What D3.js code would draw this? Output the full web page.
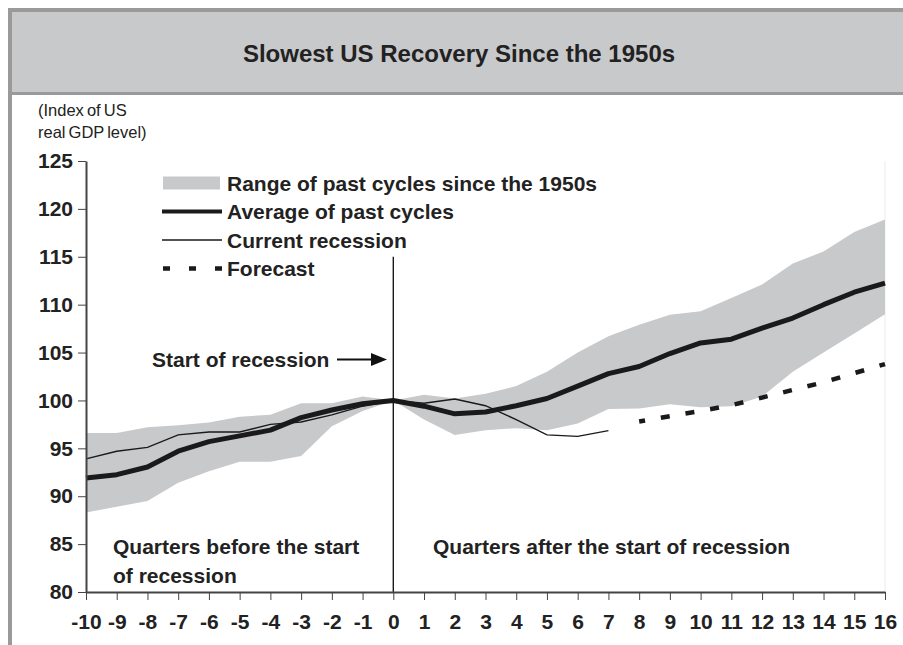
<!DOCTYPE html>
<html>
    <head>
        <meta charset="utf-8">
        <title>Slowest US Recovery</title>
        <script src="https://d3js.org/d3.v7.min.js"></script>
        <style>
            html, body {
                margin: 0;
                padding: 0;
                background: white;
            }
            svg {
                display: block;
                font-family: Arial, "Liberation Sans", sans-serif;
            }
            .axis path, .axis line {
                stroke: #444;
            }
            .axis path {
                stroke-width: 2px;
            }
            .axis text {
                font-size: 21px;
                font-weight: bold;
                fill: #222;
            }
            .bold-label {
                font-size: 21px;
                font-weight: bold;
                fill: #222;
            }
        </style>
    </head>
    <body>
        <svg width="903" height="645"></svg>
    </body>
    <script>
        // quarters relative to the start of recession
        let quarters = [-10, -9, -8, -7, -6, -5, -4, -3, -2, -1, 0, 1, 2, 3, 4, 5, 6, 7, 8, 9, 10, 11, 12, 13, 14, 15, 16];
        let rangeLow = [88.3, 88.9, 89.5, 91.4, 92.6, 93.6, 93.6, 94.2, 97.3, 98.9, 100, 98.0, 96.4, 96.9, 97.1, 96.9, 97.6, 99.1, 99.15, 99.6, 99.3, 99.4, 100.4, 103.0, 105.0, 107.0, 109.0];
        let rangeHigh = [96.6, 96.6, 97.2, 97.4, 97.7, 98.3, 98.5, 99.7, 99.7, 100.4, 100, 100.6, 100.2, 100.7, 101.5, 103.0, 105.0, 106.7, 107.9, 108.95, 109.3, 110.7, 112.1, 114.3, 115.55, 117.6, 118.9];
        let average = [91.9, 92.25, 93.05, 94.7, 95.7, 96.3, 96.9, 98.2, 99.0, 99.65, 100, 99.4, 98.6, 98.8, 99.45, 100.2, 101.5, 102.8, 103.55, 104.9, 106.0, 106.4, 107.55, 108.6, 110.0, 111.3, 112.25];
        let currentQuarters = [-10, -9, -8, -7, -6, -5, -4, -3, -2, -1, 0, 1, 2, 3, 4, 5, 6, 7];
        let current = [93.9, 94.7, 95.1, 96.4, 96.7, 96.7, 97.5, 97.75, 98.5, 99.4, 100, 99.7, 100.15, 99.45, 98.0, 96.4, 96.25, 96.85];
        let forecastQuarters = [8, 9, 10, 11, 12, 13, 14, 15, 16];
        let forecast = [97.8, 98.35, 98.9, 99.5, 100.3, 101.1, 101.9, 102.85, 103.8];
        let yTicks = [80, 85, 90, 95, 100, 105, 110, 115, 120, 125];
        let legendLabels = ['Range of past cycles since the 1950s', 'Average of past cycles', 'Current recession', 'Forecast'];
        let markerTop = 115;

        let svg = d3.select('svg');

        // frame and header
        svg.append('rect').attr('x', 8).attr('y', 8).attr('width', 895).attr('height', 637).attr('fill', '#9a9a9a');
        svg.append('rect').attr('x', 12).attr('y', 12).attr('width', 891).attr('height', 633).attr('fill', 'white');
        svg.append('rect').attr('x', 12).attr('y', 12).attr('width', 891).attr('height', 80).attr('fill', '#c8c9cb');
        svg.append('rect').attr('x', 12).attr('y', 92).attr('width', 891).attr('height', 3).attr('fill', '#9a9a9a');

        svg.append('text')
            .attr('x', 459).attr('y', 62)
            .attr('text-anchor', 'middle')
            .style('font-size', '24px').style('font-weight', 'bold').style('fill', '#222')
            .text('Slowest US Recovery Since the 1950s');

        svg.append('text')
            .attr('x', 38).attr('y', 116)
            .style('font-size', '16.5px').style('fill', '#222').style('word-spacing', '-1.5px')
            .text('(Index of US');
        svg.append('text')
            .attr('x', 38).attr('y', 138)
            .style('font-size', '16.5px').style('fill', '#222').style('word-spacing', '-1.5px')
            .text('real GDP level)');

        let x = d3.scaleLinear().domain([-10, 16]).range([86, 885]);
        let y = d3.scaleLinear().domain([80, 125]).range([592, 161]);

        // faint right edge of plot area
        svg.append('line')
            .attr('x1', x(16)).attr('x2', x(16))
            .attr('y1', y(125)).attr('y2', y(80))
            .attr('stroke', '#ececec').attr('stroke-width', 1);

        let bandData = quarters.map((q, i) => ({q: q, lo: rangeLow[i], hi: rangeHigh[i]}));
        let area = d3.area()
            .x(d => x(d.q))
            .y0(d => y(d.lo))
            .y1(d => y(d.hi));
        svg.append('path')
            .datum(bandData)
            .attr('d', area)
            .attr('fill', '#c8c9cb');

        let line = d3.line()
            .x(d => x(d[0]))
            .y(d => y(d[1]));

        svg.append('path')
            .datum(quarters.map((q, i) => [q, average[i]]))
            .attr('d', line)
            .attr('fill', 'none')
            .attr('stroke', '#1a1a1a')
            .attr('stroke-width', 5)
            .attr('stroke-linejoin', 'round');

        svg.append('path')
            .datum(currentQuarters.map((q, i) => [q, current[i]]))
            .attr('d', line)
            .attr('fill', 'none')
            .attr('stroke', '#1a1a1a')
            .attr('stroke-width', 1.4);

        svg.append('path')
            .datum(forecastQuarters.map((q, i) => [q, forecast[i]]))
            .attr('d', line)
            .attr('fill', 'none')
            .attr('stroke', '#1a1a1a')
            .attr('stroke-width', 4.5)
            .attr('stroke-dasharray', '9,16')
            .attr('stroke-dashoffset', 3);

        // start of recession marker
        svg.append('line')
            .attr('x1', x(0)).attr('x2', x(0))
            .attr('y1', y(80)).attr('y2', y(markerTop))
            .attr('stroke', '#1a1a1a').attr('stroke-width', 1.4);

        // axes
        svg.append('g')
            .attr('class', 'axis')
            .attr('transform', `translate(${x(-10)},0)`)
            .call(d3.axisLeft(y).tickValues(yTicks).tickSize(8).tickPadding(5).tickSizeOuter(0));

        svg.append('g')
            .attr('class', 'axis')
            .attr('transform', `translate(0,${y(80)})`)
            .call(d3.axisBottom(x).tickValues(quarters).tickFormat(d => String(d))
                .tickSize(8).tickPadding(14).tickSizeOuter(0));

        // legend
        let lx = 162, lw = 60;
        let rowY = [183, 211.5, 240, 268.5];
        svg.append('rect')
            .attr('x', lx + 1).attr('y', rowY[0] - 6.5).attr('width', lw - 3).attr('height', 13)
            .attr('fill', '#c8c9cb');
        svg.append('line')
            .attr('x1', lx).attr('x2', lx + lw).attr('y1', rowY[1]).attr('y2', rowY[1])
            .attr('stroke', '#1a1a1a').attr('stroke-width', 4);
        svg.append('line')
            .attr('x1', lx).attr('x2', lx + lw).attr('y1', rowY[2]).attr('y2', rowY[2])
            .attr('stroke', '#1a1a1a').attr('stroke-width', 1.3);
        svg.append('line')
            .attr('x1', lx + 1).attr('x2', lx + lw).attr('y1', rowY[3]).attr('y2', rowY[3])
            .attr('stroke', '#1a1a1a').attr('stroke-width', 4.5).attr('stroke-dasharray', '7,19');

        svg.selectAll('.legend-text')
            .data(legendLabels)
            .join('text')
            .attr('class', 'bold-label legend-text')
            .attr('x', lx + lw + 5)
            .attr('y', (d, i) => rowY[i] + 7.5)
            .text(d => d);

        // annotations
        svg.append('text')
            .attr('class', 'bold-label')
            .attr('x', 152).attr('y', 367)
            .text('Start of recession');
        svg.append('line')
            .attr('x1', 337).attr('x2', 373).attr('y1', 359.5).attr('y2', 359.5)
            .attr('stroke', '#111').attr('stroke-width', 2);
        svg.append('path')
            .attr('d', 'M371,353 L387,359.5 L371,366 Z')
            .attr('fill', '#111');

        svg.append('text')
            .attr('class', 'bold-label')
            .attr('x', 113).attr('y', 554)
            .text('Quarters before the start');
        svg.append('text')
            .attr('class', 'bold-label')
            .attr('x', 113).attr('y', 583)
            .text('of recession');
        svg.append('text')
            .attr('class', 'bold-label')
            .attr('x', 433).attr('y', 554)
            .text('Quarters after the start of recession');
    </script>
</html>
